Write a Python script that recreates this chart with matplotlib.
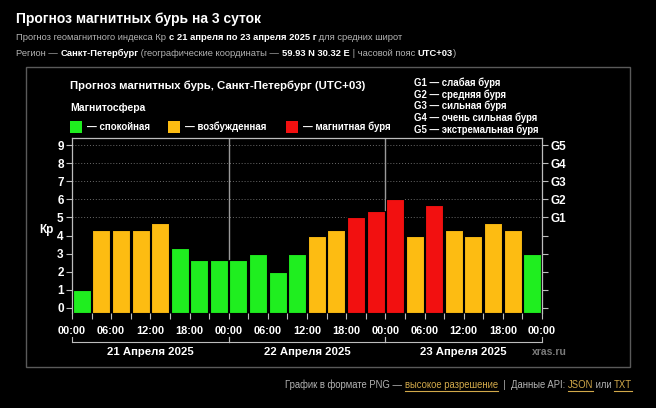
import matplotlib
matplotlib.use("Agg")
import matplotlib.pyplot as plt
from matplotlib.patches import Rectangle
from matplotlib.lines import Line2D

plt.rcParams['font.family'] = ['Liberation Sans', 'DejaVu Sans']

# ---- data ----
kp_values = [1.0, 4.33, 4.33, 4.33, 4.67, 3.33, 2.67, 2.67,
             2.67, 3.0, 2.0, 3.0, 4.0, 4.33, 5.0, 5.33,
             6.0, 4.0, 5.67, 4.33, 4.0, 4.67, 4.33, 3.0]
hour_labels = ["00:00", "06:00", "12:00", "18:00"] * 3 + ["00:00"]
day_labels = ["21 Апреля 2025", "22 Апреля 2025", "23 Апреля 2025"]
g_labels = ["G1", "G2", "G3", "G4", "G5"]
g_desc = ["G1 — слабая буря", "G2 — средняя буря", "G3 — сильная буря",
          "G4 — очень сильная буря", "G5 — экстремальная буря"]
legend_names = ["— спокойная", "— возбужденная", "— магнитная буря"]

GREEN, ORANGE, RED = "#1fee1f", "#fdbc12", "#f21010"

def color_for(v):
    if v >= 5:
        return RED
    if v >= 4:
        return ORANGE
    return GREEN

W, H = 656, 408
fig = plt.figure(figsize=(W / 100, H / 100), dpi=100, facecolor="black")
renderer = fig.canvas.get_renderer()

def fx(x):
    return x / W

def fy(y):
    return 1 - y / H

def runs(x, y, pieces, size):
    """pieces: list of (text, color, weight, underline)"""
    for txt, col, wt, ul in pieces:
        t = fig.text(fx(x), fy(y), txt, color=col, fontsize=size, fontweight=wt,
                     ha="left", va="center")
        bb = t.get_window_extent(renderer=renderer)
        if ul:
            fig.add_artist(Line2D([fx(x), fx(x + bb.width)],
                                  [fy(y + 6), fy(y + 6)], color=col, lw=0.8,
                                  transform=fig.transFigure))
        x += bb.width
    return x

# ---- header ----
fig.text(fx(16), fy(19), "Прогноз магнитных бурь на 3 суток", color="white",
         fontsize=10, fontweight="bold", ha="left", va="center")
GRAY = "#b4b4b4"
runs(16, 38, [("Прогноз геомагнитного индекса Кр ", GRAY, "normal", False),
              ("с 21 апреля по 23 апреля 2025 г", "white", "bold", False),
              (" для средних широт", GRAY, "normal", False)], 6.75)
runs(16, 53, [("Регион — ", GRAY, "normal", False),
              ("Санкт-Петербург", "white", "bold", False),
              (" (географические координаты — ", GRAY, "normal", False),
              ("59.93 N 30.32 E", "white", "bold", False),
              (" | часовой пояс ", GRAY, "normal", False),
              ("UTC+03", "white", "bold", False),
              (")", GRAY, "normal", False)], 6.75)

# panel border
fig.add_artist(Rectangle((fx(26), fy(367)), fx(630) - fx(26), fy(67) - fy(367),
                         transform=fig.transFigure, fill=False,
                         edgecolor="#5a5a5a", lw=1.0))

# chart title and legend
fig.text(fx(70), fy(86), "Прогноз магнитных бурь, Санкт-Петербург (UTC+03)",
         color="white", fontsize=8.2, fontweight="bold", ha="left", va="center")
fig.text(fx(70), fy(108), "Магнитосфера", color="white", fontsize=7.5,
         fontweight="bold", ha="left", va="center")
for sx, col, name in zip([70, 168, 286], [GREEN, ORANGE, RED], legend_names):
    fig.add_artist(Rectangle((fx(sx), fy(133)), fx(12), 12 / H,
                             transform=fig.transFigure, facecolor=col,
                             edgecolor="none"))
    fig.text(fx(sx + 17), fy(127), name, color="white", fontsize=7,
             fontweight="bold", ha="left", va="center")
for i, d in enumerate(g_desc):
    fig.text(fx(414), fy(83 + i * 11.6), d, color="white", fontsize=6.9,
             fontweight="bold", ha="left", va="center")

# ---- axes ----
ax = fig.add_axes([fx(72), fy(313), (542 - 72) / W, (313 - 138) / H])
ax.set_facecolor("black")
ymin, ymax = -0.28, 9.39
ax.set_xlim(0, 72)
ax.set_ylim(ymin, ymax)

for yv in range(5, 10):
    ax.axhline(yv, color="#6a6a6a", lw=0.7, ls=(0, (1, 2)), zorder=0)
for xv in (24, 48):
    ax.axvline(xv, color="#9a9a9a", lw=1.0, zorder=0.5)

centers = [1.5 + 3 * i for i in range(len(kp_values))]
ax.bar(centers, [v - ymin for v in kp_values], bottom=ymin, width=2.75,
       color=[color_for(v) for v in kp_values], edgecolor="black", lw=0.8,
       zorder=2)

for s in ("left", "right", "top"):
    ax.spines[s].set_color("#bdbdbd")
    ax.spines[s].set_linewidth(0.9)
ax.spines["bottom"].set_visible(False)

ax.set_yticks(range(10))
ax.set_yticklabels([str(i) for i in range(10)])
ax.tick_params(axis="y", colors="#bdbdbd", labelcolor="white", length=4,
               width=0.8, pad=2, labelsize=8.5)
for lbl in ax.get_yticklabels():
    lbl.set_fontweight("bold")

ax.set_xticks(range(0, 73, 6))
ax.set_xticklabels(hour_labels)
ax.set_xticks(range(0, 73, 3), minor=True)
ax.tick_params(axis="x", which="both", colors="#bdbdbd", labelcolor="white",
               length=4, width=0.8, pad=5, labelsize=7.9)
for lbl in ax.get_xticklabels():
    lbl.set_fontweight("bold")

ax2 = ax.twinx()
ax2.set_ylim(ymin, ymax)
ax2.set_yticks(range(10))
ax2.set_yticklabels([""] * 5 + g_labels)
ax2.tick_params(axis="y", colors="#bdbdbd", labelcolor="white", length=4,
                width=0.8, pad=2, labelsize=8.5)
for lbl in ax2.get_yticklabels():
    lbl.set_fontweight("bold")
for s in ax2.spines.values():
    s.set_visible(False)

fig.text(fx(46), fy(230), "Кр", color="white", fontsize=8.5, fontweight="bold",
         ha="center", va="center")

# day brackets
ytop, ybot = 337, 342
for d, name in enumerate(day_labels):
    x0 = 72 + (542 - 72) * d / 3
    x1 = 72 + (542 - 72) * (d + 1) / 3
    fig.add_artist(Line2D([fx(x0), fx(x1)], [fy(ybot), fy(ybot)], color="#bdbdbd",
                          lw=0.8, transform=fig.transFigure))
    fig.add_artist(Line2D([fx(x0), fx(x0)], [fy(ytop), fy(ybot)], color="#bdbdbd",
                          lw=0.8, transform=fig.transFigure))
    fig.add_artist(Line2D([fx(x1), fx(x1)], [fy(ytop), fy(ybot)], color="#bdbdbd",
                          lw=0.8, transform=fig.transFigure))
    fig.text(fx((x0 + x1) / 2), fy(352), name, color="white", fontsize=8.2,
             fontweight="bold", ha="center", va="center")
fig.text(fx(549), fy(352), "xras.ru", color="#7a7a7a", fontsize=7.5,
         fontweight="bold", ha="center", va="center")

# footer
GOLD = "#d2a94a"
runs(285, 385, [("График в формате PNG — ", GRAY, "normal", False),
                ("высокое разрешение", GOLD, "normal", True),
                ("  |  Данные API: ", GRAY, "normal", False),
                ("JSON", GOLD, "normal", True),
                (" или ", GRAY, "normal", False),
                ("TXT", GOLD, "normal", True)], 6.85)

fig.savefig("out.png", dpi=100, facecolor="black")
